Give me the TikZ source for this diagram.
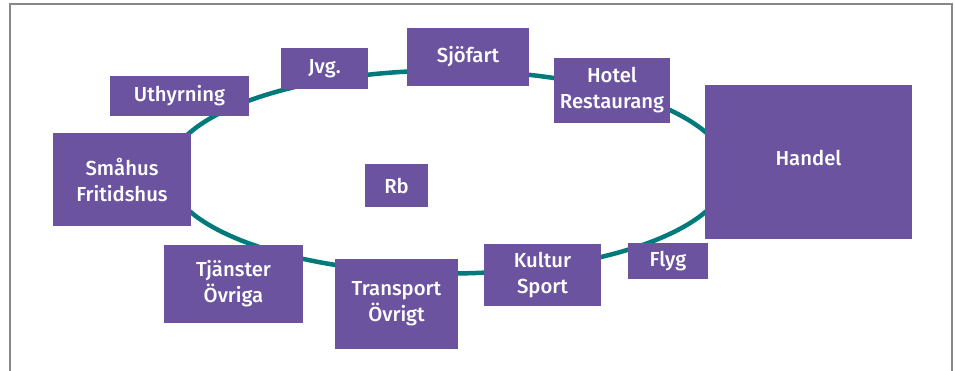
\documentclass[tikz,border=0pt]{standalone}
\usepackage{fontspec}
\setmainfont{Fira Sans Medium}
\definecolor{boxpurple}{RGB}{107,83,160}
\definecolor{ringteal}{RGB}{0,122,122}
\definecolor{framegray}{RGB}{136,136,136}
\tikzset{
  box/.style={fill=boxpurple, draw=none, text=white, align=center,
    inner sep=0pt, font=\fontsize{20.3}{26}\selectfont},
  ring/.style={draw=ringteal, line width=4.5pt},
  frameline/.style={draw=framegray, line width=1.5pt}
}
\begin{document}
\begin{tikzpicture}[x=1pt,y=-1pt]
\useasboundingbox (0,0) rectangle (955,371);
\draw[frameline] (10,371) -- (10,4) -- (952,4) -- (952,371);
\draw[ring] (448,172) ellipse [x radius=280, y radius=101.5];
\node[box, minimum width=139pt, minimum height=40pt] (uth) at (179.5,96) {Uthyrning};
\node[box, minimum width=87pt, minimum height=41pt] (jvg) at (324.5,68.5) {Jvg.};
\node[box, minimum width=122pt, minimum height=58pt] (sjo) at (468,57) {Sjöfart};
\node[box, minimum width=116pt, minimum height=65pt] (hot) at (612,90.5) {Hotel\\Restaurang};
\node[box, minimum width=207pt, minimum height=154pt] (han) at (808.5,162) {\raisebox{4pt}[\height][\depth]{Handel}};
\node[box, minimum width=80pt, minimum height=36pt] (fly) at (668,261) {Flyg};
\node[box, minimum width=117pt, minimum height=62pt] (kul) at (542.5,275) {Kultur\\Sport};
\node[box, minimum width=123pt, minimum height=90pt] (tra) at (396.5,304) {Transport\\Övrigt};
\node[box, minimum width=139pt, minimum height=78pt] (tja) at (233.5,284) {Tjänster\\Övriga};
\node[box, minimum width=138pt, minimum height=93pt] (sma) at (122,179.5) {Småhus\\Fritidshus};
\node[box, minimum width=63pt, minimum height=43pt] (rb) at (396.5,185.5) {Rb};
\end{tikzpicture}
\end{document}
